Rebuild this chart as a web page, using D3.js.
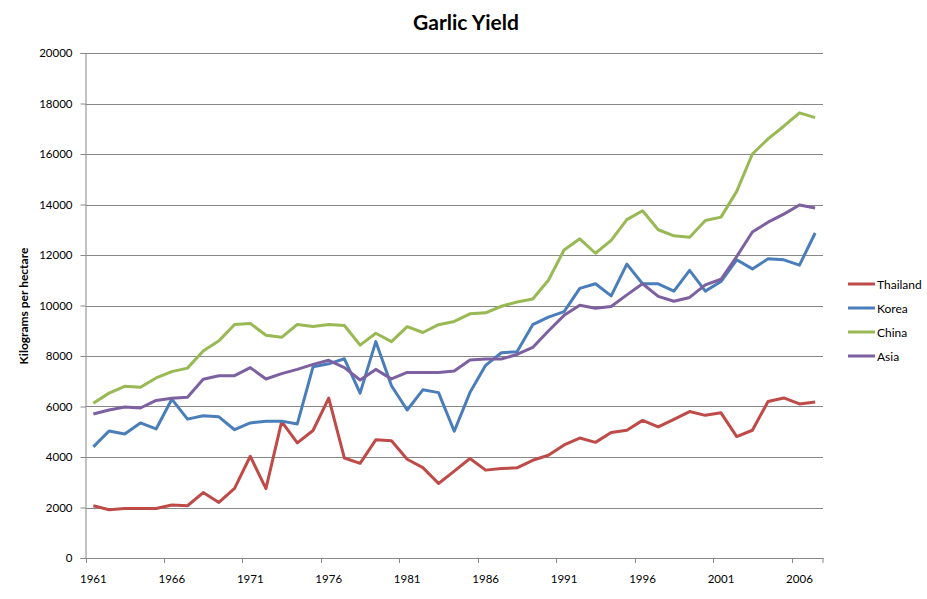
<!DOCTYPE html>
<html>
<head>
<meta charset="utf-8">
<script src="https://cdn.jsdelivr.net/npm/d3@7"></script>
<style>
  body { margin: 0; background: #fff; }
  text { font-family: Lato, "Open Sans", sans-serif; fill: #000; }
</style>
</head>
<body>
<svg id="chart" width="927" height="599"></svg>
<script>
// years 1961..2007
var years = d3.range(1961, 2008);
var labelYears = [1961, 1966, 1971, 1976, 1981, 1986, 1991, 1996, 2001, 2006];
var yTicks = [0, 2000, 4000, 6000, 8000, 10000, 12000, 14000, 16000, 18000, 20000];

var thailand = [2070, 1910, 1960, 1960, 1960, 2100, 2070, 2590, 2200, 2760,
                4030, 2750, 5400, 4560, 5050, 6330, 3960, 3750, 4680, 4640,
                3910, 3580, 2950, 3440, 3940, 3480, 3540, 3570, 3870, 4070,
                4480, 4750, 4580, 4970, 5060, 5450, 5190, 5490, 5800, 5650,
                5750, 4810, 5060, 6200, 6340, 6100, 6180];
var korea = [4400, 5030, 4910, 5350, 5110, 6290, 5500, 5630, 5590, 5080,
             5350, 5420, 5420, 5310, 7570, 7690, 7890, 6530, 8570, 6820,
             5860, 6660, 6550, 5020, 6550, 7630, 8130, 8170, 9240, 9540,
             9760, 10680, 10860, 10380, 11640, 10860, 10860, 10570, 11390, 10570,
             10950, 11810, 11450, 11850, 11810, 11600, 12870];
var china = [6130, 6530, 6800, 6760, 7130, 7380, 7520, 8200, 8600, 9250,
             9290, 8820, 8740, 9250, 9170, 9250, 9210, 8430, 8900, 8570,
             9160, 8930, 9240, 9370, 9670, 9710, 9970, 10140, 10260, 11000,
             12200, 12640, 12070, 12580, 13400, 13750, 13000, 12760, 12700, 13370,
             13500, 14520, 16000, 16600, 17100, 17630, 17440];
var asia = [5700, 5860, 5980, 5940, 6240, 6330, 6370, 7080, 7220, 7220,
            7540, 7090, 7300, 7470, 7670, 7830, 7540, 7050, 7470, 7090,
            7350, 7350, 7350, 7410, 7840, 7880, 7880, 8060, 8340, 8990,
            9610, 10010, 9890, 9960, 10420, 10860, 10360, 10170, 10320, 10820,
            11040, 11940, 12910, 13300, 13620, 13980, 13860];

var seriesNames = ["Thailand", "Korea", "China", "Asia"];
var seriesColors = ["#be4b48", "#4a7ebb", "#98b954", "#7d60a0"];
var seriesValues = [thailand, korea, china, asia];

var svg = d3.select("#chart");
var plotLeft = 85.5, plotRight = 823, plotTop = 53, plotBottom = 558;

var x = d3.scaleBand().domain(years).range([plotLeft, plotRight]).padding(0);
var y = d3.scaleLinear().domain([0, 20000]).range([plotBottom, plotTop]);

// gridlines
svg.append("g").selectAll("line").data(yTicks.slice(1)).enter().append("line")
    .attr("x1", plotLeft).attr("x2", plotRight)
    .attr("y1", function (d) { return Math.round(y(d)) + 0.5; })
    .attr("y2", function (d) { return Math.round(y(d)) + 0.5; })
    .attr("stroke", "#878787").attr("stroke-width", 1);

// y axis
var yAxis = svg.append("g").attr("transform", "translate(" + plotLeft + ",0)")
    .call(d3.axisLeft(y).tickValues(yTicks).tickSize(5).tickPadding(8).tickFormat(d3.format("d")));
yAxis.selectAll("path, line").attr("stroke", "#878787");
yAxis.selectAll("text").style("font-size", "11.5px").style("font-family", "Lato, sans-serif");

// x axis: labels at category centres, ticks at category edges
var xAxis = svg.append("g").attr("transform", "translate(0," + plotBottom + ")")
    .call(d3.axisBottom(x).tickValues(labelYears).tickSize(0).tickPadding(17));
xAxis.select("path").attr("stroke", "#878787");
xAxis.selectAll("text").style("font-size", "11.5px").style("font-family", "Lato, sans-serif");
svg.append("g").selectAll("line").data(labelYears.concat([2011])).enter().append("line")
    .attr("x1", function (d) { return d === 2011 ? plotRight : Math.round(x(d)) + 0.5; })
    .attr("x2", function (d) { return d === 2011 ? plotRight : Math.round(x(d)) + 0.5; })
    .attr("y1", plotBottom).attr("y2", plotBottom + 5)
    .attr("stroke", "#878787");

// lines
var line = d3.line()
    .x(function (d, i) { return x(years[i]) + x.bandwidth() / 2; })
    .y(function (d) { return y(d); });

seriesValues.forEach(function (vals, idx) {
    svg.append("path")
        .datum(vals)
        .attr("d", line)
        .attr("fill", "none")
        .attr("stroke", seriesColors[idx])
        .attr("stroke-width", 3)
        .attr("stroke-linejoin", "round");
});

// title
svg.append("text").attr("x", 466).attr("y", 30).attr("text-anchor", "middle")
    .style("font-size", "21px").style("font-weight", "bold").text("Garlic Yield");

// y axis title
svg.append("text").attr("transform", "translate(28,306) rotate(-90)")
    .attr("text-anchor", "middle")
    .style("font-size", "12px").style("font-weight", "bold").text("Kilograms per hectare");

// legend
var legend = svg.append("g").selectAll("g").data(seriesNames).enter().append("g")
    .attr("transform", function (d, i) { return "translate(848," + (284 + i * 24) + ")"; });
legend.append("line").attr("x1", 0).attr("x2", 27).attr("y1", 0).attr("y2", 0)
    .attr("stroke", function (d, i) { return seriesColors[i]; }).attr("stroke-width", 3);
legend.append("text").attr("x", 29).attr("y", 4.5)
    .style("font-size", "12px").text(function (d) { return d; });
</script>
</body>
</html>
